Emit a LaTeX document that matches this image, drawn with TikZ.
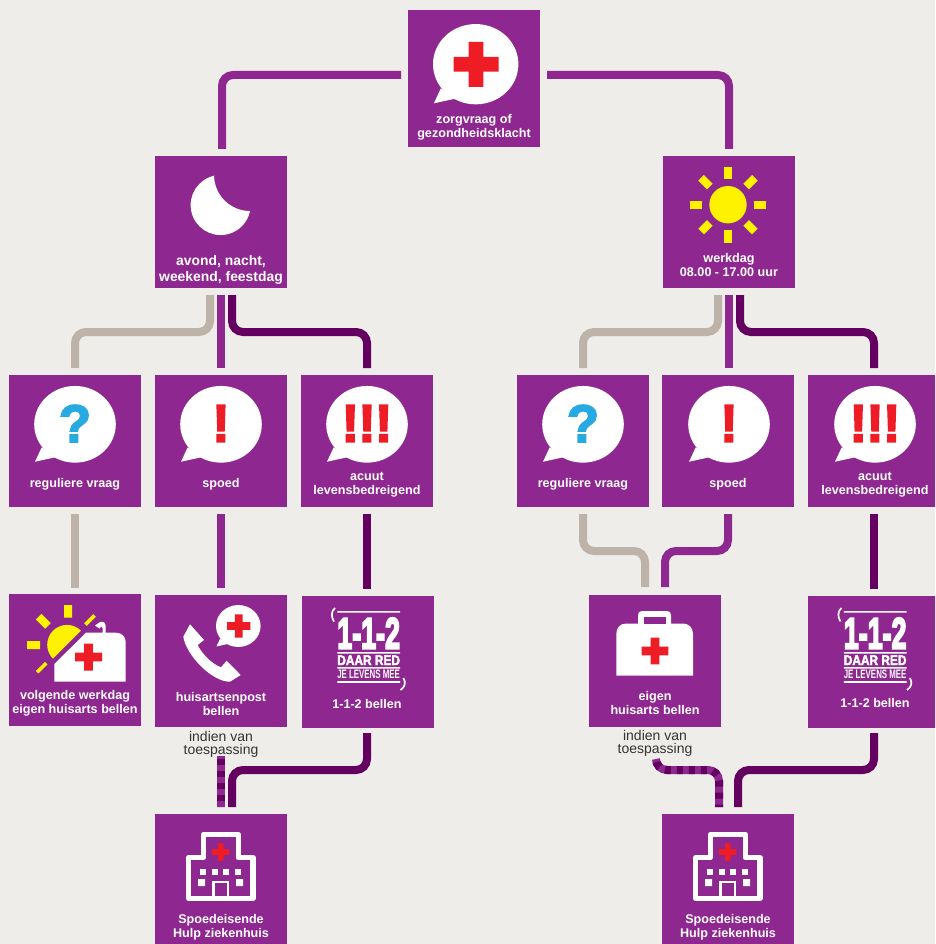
\documentclass[tikz,border=0pt]{standalone}
\usepackage{fontspec}
\setmainfont{Liberation Sans}
\newfontfamily\markfont[BoldFeatures={FakeBold=3}]{Liberation Sans}
\newfontfamily\logofont[BoldFeatures={FakeBold=5}]{Liberation Sans}
\usetikzlibrary{calc,positioning}
\definecolor{paper}{HTML}{EEEDE9}
\definecolor{plum}{HTML}{8E278F}
\definecolor{darkplum}{HTML}{630060}
\definecolor{stone}{HTML}{BDB3A8}
\definecolor{sunyellow}{HTML}{FFF200}
\definecolor{crossred}{HTML}{EE1C25}
\definecolor{askblue}{HTML}{27AAE1}
\tikzset{
    box/.style={
    rectangle,fill=plum,minimum width=132pt,minimum height=132pt,inner sep=0pt,outer sep=0pt
    },
    boxtext/.style={
    yshift=-1.2pt,text=white,align=center,inner sep=0pt,font=\fontsize{12.6}{14}\selectfont\bfseries
    },
    bigtext/.style={
    yshift=-1pt,text=white,align=center,inner sep=0pt,font=\fontsize{13.9}{15.6}\selectfont\bfseries
    },
    sidetext/.style={
    yshift=-1pt,text=black!80,align=center,inner sep=0pt,font=\fontsize{14}{12.5}\selectfont
    },
    mark text/.style={
    inner sep=0pt,font=\fontsize{53}{53}\selectfont\markfont\bfseries
    },
    conn/.style={
    line width=8pt,rounded corners=11pt
    },
    striped/.style={
    conn,draw=plum,postaction={draw=darkplum,dash pattern=on 6pt off 6pt,dash phase=9pt}
    },
    pics/speech/.style={code={
      \fill[white] (0,0) circle[x radius=1,y radius=0.94];
      \fill[white] (-0.816,0.564) -- (-0.98,0.917) -- (-0.49,0.81) -- cycle;
    }},
    pics/redcross/.style={code={
      \fill[crossred] (-1,-0.33) rectangle (1,0.33) (-0.33,-1) rectangle (0.33,1);
    }},
    pics/hospital/.style={code={
      \draw[white,line width=5.3pt,line join=round]
        (-32.3,37.3) -- (-32.3,-3.3) -- (-17.7,-3.3) -- (-17.7,-26.7) -- (17.2,-26.7) -- (17.2,-3.3) -- (32,-3.3) -- (32,37.3) -- cycle;
      \pic[scale=8.7] at (-0.3,-9) {redcross};
      \foreach \wx in {-21,-9,2.3,14}
        \fill[white] (\wx,8) rectangle ++(6,6);
      \fill[white] (-23,18) rectangle ++(7,7) (15,18) rectangle ++(7,7);
      \draw[white,line width=2.7pt] (-7.7,38) -- (-7.7,21) -- (7,21) -- (7,38);
    }},
    pics/oneonetwo/.style={code={
      \fill[white] (-30.2,-51) rectangle (32.5,-49.3)
                   (-30.2,-10) rectangle (32.5,-8.4)
                   (-30.2,5) rectangle (32.5,6.6)
                   (-30.2,19) rectangle (32.5,20.8);
      \node[text=white,inner sep=0pt] (logonum) at (1.15,-28.8) {\resizebox{62.7pt}{30.6pt}{\logofont\bfseries 1-1-2}};
      \node[text=white,inner sep=0pt] (logored) at (1.15,-1.8) {\resizebox{62.7pt}{9.6pt}{\markfont\bfseries DAAR RED}};
      \node[text=white,inner sep=0pt] (logomee) at (1.15,12.3) {\resizebox{62.7pt}{8.6pt}{\bfseries JE LEVENS MEE}};
      \draw[white,line width=1.7pt] (-32.5,-54) .. controls (-36.5,-51) and (-36.5,-45) .. (-33.5,-40.5);
      \draw[white,line width=1.7pt] (36,16) .. controls (38.5,21) and (37.5,25) .. (33,28);
    }},
}
\begin{document}
\begin{tikzpicture}[x=1pt,y=-1pt]
  \useasboundingbox (0,0) rectangle (935,944);
  \clip (0,0) rectangle (935,944);
  \fill[paper] (0,0) rectangle (935,944);

  % boxes
  \node[box,minimum height=137pt] (top) at (474,78.5) {};
  \node[box] (night) at (221,222) {};
  \node[box] (day) at (729,222) {};
  \node[box] (regl) at (75,441) {};
  \node[box] (spoedl) at (221,441) {};
  \node[box] (acuutl) at (367,441) {};
  \node[box] (regr) at (583,441) {};
  \node[box] (spoedr) at (728,441) {};
  \node[box] (acuutr) at (874,441) {};
  \node[box] (nextday) at (75,660) {};
  \node[box] (post) at (221,661) {};
  \node[box] (eenl) at (367.5,662) {};
  \node[box] (eigen) at (655,661) {};
  \node[box] (eenr) at (874,662) {};
  \node[box] (hospl) at (221,880) {};
  \node[box] (hospr) at (728,880) {};

  % connectors
  \draw[conn,plum] ([xshift=-7pt,yshift=3.5pt]top.west) -| ([xshift=1pt,yshift=7pt]night.north);
  \draw[conn,plum] ([xshift=7pt,yshift=3.5pt]top.east) -| ([yshift=7pt]day.north);

  \draw[conn,stone] ([xshift=-11pt,yshift=-7pt]night.south) -- ++(0,37) -| ([yshift=7pt]regl.north);
  \draw[conn,plum] ([yshift=-7pt]night.south) -- ([yshift=7pt]spoedl.north);
  \draw[conn,darkplum] ([xshift=11pt,yshift=-7pt]night.south) -- ++(0,37) -| ([yshift=7pt]acuutl.north);
  \draw[conn,stone] ([xshift=-11pt,yshift=-7pt]day.south) -- ++(0,37) -| ([yshift=7pt]regr.north);
  \draw[conn,plum] ([yshift=-7pt]day.south) -- ([xshift=1pt,yshift=7pt]spoedr.north);
  \draw[conn,darkplum] ([xshift=11pt,yshift=-7pt]day.south) -- ++(0,37) -| ([yshift=7pt]acuutr.north);

  \draw[conn,stone] ([yshift=-7pt]regl.south) -- ([yshift=6pt]nextday.north);
  \draw[conn,plum] ([yshift=-7pt]spoedl.south) -- ([yshift=7pt]post.north);
  \draw[conn,darkplum] ([yshift=-7pt]acuutl.south) -- ([xshift=-0.5pt,yshift=7pt]eenl.north);
  \draw[conn,stone] ([yshift=-7pt]regr.south) -- ++(0,37) -| ([xshift=-10pt,yshift=8pt]eigen.north);
  \draw[conn,plum] ([yshift=-7pt]spoedr.south) -- ++(0,37) -| ([xshift=10pt,yshift=8pt]eigen.north);
  \draw[conn,darkplum] ([yshift=-7pt]acuutr.south) -- ([yshift=7pt]eenr.north);

  \draw[striped] ([yshift=-29pt]post.south) -- ([yshift=7pt]hospl.north);
  \draw[conn,darkplum] ([xshift=-0.5pt,yshift=-5pt]eenl.south) -- ++(0,37) -| ([xshift=11pt,yshift=7pt]hospl.north);
  \draw[striped,rounded corners=11pt] ([xshift=1pt,yshift=-32pt]eigen.south) -- ++(0,11) -| ([xshift=-9pt,yshift=7pt]hospr.north);
  \draw[conn,darkplum] ([yshift=-5pt]eenr.south) -- ++(0,37) -| ([xshift=10pt,yshift=7pt]hospr.north);

  % top question
  \pic[scale=42.7] at (475.7,64.2) {speech};
  \pic[scale=22.5] at (476,64.3) {redcross};

  % moon
  \fill[white] (214.4,175.7) arc[start angle=102,end angle=348.5,radius=30pt] arc[start angle=-90,end angle=-180,radius=36pt] -- cycle;

  % sun
  \begin{scope}[shift={(728,204.7)}]
    \fill[sunyellow] (0,0) circle[radius=18.7];
    \foreach \rayangle in {0,45,...,315}
      \fill[sunyellow,rotate=\rayangle] (-4,-38) rectangle (4,-25.7);
  \end{scope}

  % questions, left and right
  \foreach \bx/\qname in {75/ql,583/qr}{
    \pic[scale=40.8] at (\bx,424.3) {speech};
    \node[mark text,text=askblue] (\qname) at (\bx,423.5) {?};
  }
  \foreach \bx/\ename in {221/el,729/er}{
    \pic[scale=40.8] at (\bx,424.3) {speech};
    \node[mark text,text=crossred] (\ename) at (\bx,423.5) {!};
  }
  \foreach \bx/\aname in {367/al,875/ar}{
    \pic[scale=40.8] at (\bx,424.3) {speech};
    \node[mark text,text=crossred] (\aname) at (\bx,423.5) {!\kern-1pt!\kern-1pt!};
  }

  % sun behind the case
  \fill[sunyellow] (81,630.7) arc[start angle=45,end angle=225,radius=19.8pt] -- cycle;
  \fill[sunyellow] (64,605) rectangle (72,617.7) (27,641) rectangle (40,649);
  \fill[sunyellow,rotate around={-45:(43.3,621.3)}] (36.8,617.3) rectangle (49.8,625.3);
  \fill[sunyellow,rotate around={45:(90,620)}] (83.5,618.2) rectangle (96.5,621.8);
  \fill[sunyellow,rotate around={45:(41.7,667.7)}] (35.2,665.9) rectangle (48.2,669.5);
  \fill[white] (54.3,681.7) -- (54.3,664) -- (86,632.7) -- (116,632.7) .. controls (122,632.7) and (125.7,637) .. (125.7,642) -- (125.7,681.7) -- cycle;
  \fill[white] (95,625.5) -- (100,622) .. controls (104,621) and (105.7,623) .. (105.7,627)
    -- (105.7,633) -- (102.5,633) -- (102.5,628) .. controls (102.5,626) and (101,626) .. (99.5,628.5) -- cycle;
  \pic[scale=13.5] at (88.5,657) {redcross};

  % phone
  \fill[white] (183.3,636.7) -- (190,624.3) -- (204,640) -- (197.7,645)
    .. controls (202,654) and (212,664) .. (221,667.3) -- (226.7,660.7) -- (240.7,675) -- (230,681.7)
    .. controls (212,682) and (186,655) .. (183.3,636.7) -- cycle;
  \pic[scale=22.3] at (238.3,626) {speech};
  \pic[scale=11.7] at (238.7,626) {redcross};

  % logo
  \pic at (367.5,662) {oneonetwo};
  \pic at (874,662) {oneonetwo};

  % case
  \fill[white] (638,623.5) -- (638,615) .. controls (638,612.5) and (639.5,611) .. (642,611) -- (667,611) .. controls (669.5,611) and (671,612.5) .. (671,615) -- (671,623.5) -- (683,623.5)
    .. controls (689,623.5) and (693,628) .. (693,634) -- (693,675.7) -- (616.3,675.7) -- (616.3,634) .. controls (616.3,628) and (620,623.5) .. (626,623.5) -- cycle;
  \fill[plum] (644,617) rectangle (665.7,623.5);
  \pic[scale=13.3] at (655,651) {redcross};

  % hospitals
  \pic at (221,861) {hospital};
  \pic at (728,861) {hospital};

  % texts
  \node[boxtext] (toptext) at (474,126.5) {zorgvraag of\\gezondheidsklacht};
  \node[bigtext] (nighttext) at (221,269) {avond, nacht,\\weekend, feestdag};
  \node[boxtext] (daytext) at (729,264) {werkdag\\08.00 - 17.00 uur};
  \node[boxtext] (regltext) at (75,483) {reguliere vraag};
  \node[boxtext] (spoedltext) at (221,483) {spoed};
  \node[boxtext] (acuutltext) at (367,483.5) {acuut\\levensbedreigend};
  \node[boxtext] (regrtext) at (583,483) {reguliere vraag};
  \node[boxtext] (spoedrtext) at (728,483) {spoed};
  \node[boxtext] (acuutrtext) at (875,483.5) {acuut\\levensbedreigend};
  \node[boxtext] (nextdaytext) at (75,702.5) {volgende werkdag\\eigen huisarts bellen};
  \node[boxtext] (posttext) at (221,703) {huisartsenpost\\bellen};
  \node[boxtext] (eenltext) at (367,702.7) {1-1-2 bellen};
  \node[boxtext] (eigentext) at (655,702) {eigen\\huisarts bellen};
  \node[boxtext] (eenrtext) at (875,702) {1-1-2 bellen};
  \node[boxtext] (hospltext) at (221,926.5) {Spoedeisende\\Hulp ziekenhuis};
  \node[boxtext] (hosprtext) at (728,926.5) {Spoedeisende\\Hulp ziekenhuis};
  \node[sidetext] (indienl) at (221,743.3) {indien van\\toespassing};
  \node[sidetext] (indienr) at (655,742.3) {indien van\\toespassing};
\end{tikzpicture}
\end{document}
